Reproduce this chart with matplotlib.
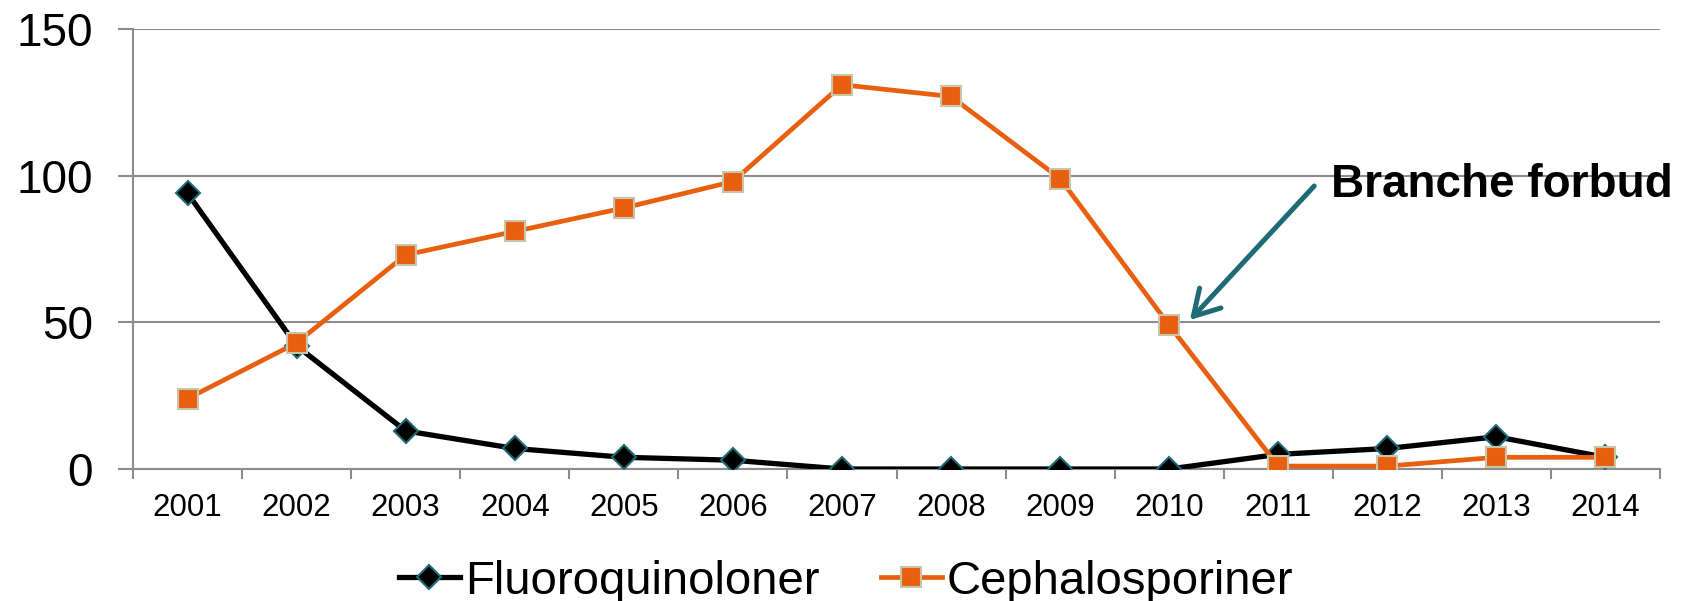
import numpy as np
from matplotlib import pyplot as plt

plt.rcParams['font.family'] = ['Liberation Sans', 'DejaVu Sans']

# data
aar = ['2001', '2002', '2003', '2004', '2005', '2006', '2007',
       '2008', '2009', '2010', '2011', '2012', '2013', '2014']
fluoroquinoloner = [94, 42, 13, 7, 4, 3, 0, 0, 0, 0, 5, 7, 11, 4]
cephalosporiner = [24, 43, 73, 81, 89, 98, 131, 127, 99, 49, 1, 1, 4, 4]
y_ticks = [0, 50, 100, 150]
tekst_annotation = 'Branche forbud'

gris = '#8C8C8C'
orange = '#E8600F'
teal = '#1F6B75'

fig = plt.figure(figsize=(16.92, 6.01), dpi=100)
ax = fig.add_axes([0.0786, 0.2196, 0.9025, 0.7321])

x = np.arange(len(aar))
ax.plot(x, fluoroquinoloner, color='black', lw=3.8, marker='D', ms=12,
        mfc='black', mec=teal, mew=1.5, label='Fluoroquinoloner', zorder=3)
ax.plot(x, cephalosporiner, color=orange, lw=3.4, marker='s', ms=14,
        mfc=orange, mec='#C9C5AA', mew=1.5, label='Cephalosporiner', zorder=4)

ax.set_xlim(-0.5, len(aar) - 0.5)
ax.set_ylim(0, 150)
ax.set_yticks(y_ticks)
ax.set_yticklabels([str(v) for v in y_ticks], fontsize=33)
ax.set_xticks(x)
ax.set_xticklabels(aar, fontsize=22.5)
ax.set_xticks(np.arange(-0.5, len(aar)), minor=True)
ax.tick_params(axis='x', which='major', length=0, pad=17)
ax.tick_params(axis='x', which='minor', length=7, width=1.5, color=gris, direction='out')
ax.tick_params(axis='y', length=11, width=1.5, color=gris, direction='out', pad=18)

ax.grid(True, axis='y', color=gris, lw=1.5)
ax.set_axisbelow(True)
for side in ['top', 'right']:
    ax.spines[side].set_visible(False)
for side in ['left', 'bottom']:
    ax.spines[side].set_color(gris)
    ax.spines[side].set_linewidth(1.5)

ax.annotate('', xy=(9.19, 50.8), xytext=(10.33, 96.5),
            arrowprops=dict(arrowstyle='->,head_length=0.6,head_width=0.35', color=teal,
                            lw=3.6, mutation_scale=30, shrinkA=0, shrinkB=0))
ax.text(10.48, 96.8, tekst_annotation, fontsize=33, fontweight='bold',
        ha='left', va='center', clip_on=False)

fig.legend(loc='center', bbox_to_anchor=(0.5, 0.032), ncol=2, frameon=False,
           fontsize=34, handlelength=1.3, handletextpad=0.1, columnspacing=1.3)

fig.savefig('out.png', dpi=100)
